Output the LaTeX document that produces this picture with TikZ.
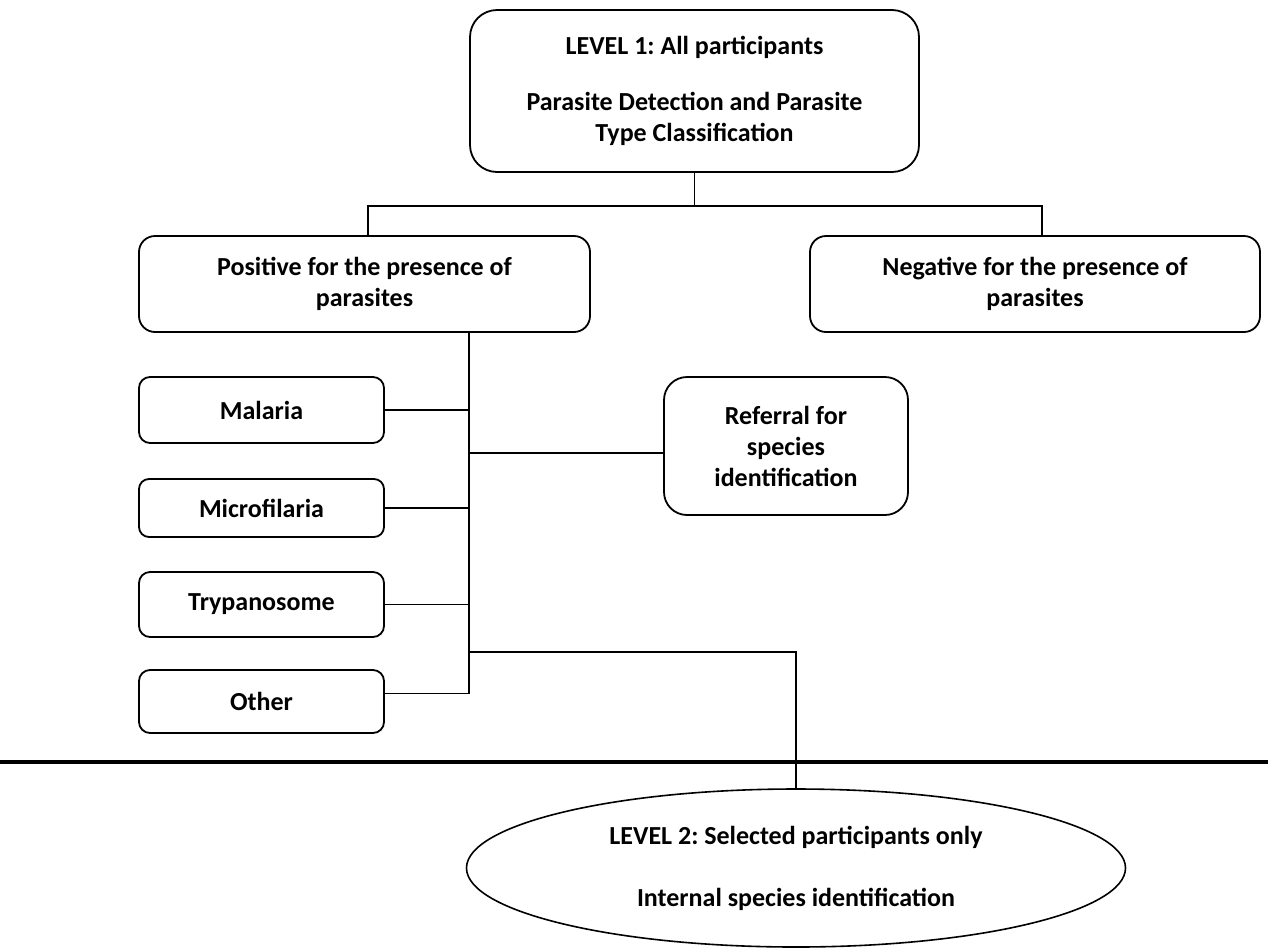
\documentclass[tikz,border=0pt]{standalone}
\usepackage{fontspec}
\setmainfont{Carlito}
\usetikzlibrary{shapes.geometric}
\frenchspacing
\begin{document}
\begin{tikzpicture}[x=1pt,y=-1pt,
 box/.style={draw, line width=1.8pt, align=center, inner sep=0pt, font=\fontsize{26}{31}\selectfont\bfseries},
 conn/.style={line width=1.8pt},
 divider/.style={line width=4.5pt},
]
\useasboundingbox (0,0) rectangle (1268,951);
\node[box, rounded corners=27pt, minimum width=449pt, minimum height=162pt] (lvl1) at (694.5,91)
  {LEVEL 1: All participants\\[25pt]Parasite Detection and Parasite\\Type Classification};
\node[box, rounded corners=16pt, minimum width=451pt, minimum height=96pt] (pos) at (364.5,284)
  {Positive for the presence of\\parasites};
\node[box, rounded corners=16pt, minimum width=450pt, minimum height=96pt] (neg) at (1035,284)
  {Negative for the presence of\\parasites};
\node[box, rounded corners=11pt, minimum width=245pt, minimum height=66pt] (mal) at (261.5,410) {Malaria};
\node[box, rounded corners=10pt, minimum width=245pt, minimum height=58pt] (mic) at (261.5,508) {Microfilaria};
\node[box, rounded corners=11pt, minimum width=245pt, minimum height=65pt] (try) at (261.5,604.5) {Trypanosome};
\node[box, rounded corners=11pt, minimum width=245pt, minimum height=63pt] (oth) at (261.5,701.5) {Other};
\node[box, rounded corners=23pt, minimum width=244pt, minimum height=138pt] (ref) at (786,446)
  {Referral for\\species\\identification};
\node[box, ellipse, line width=1.6pt, minimum width=659pt, minimum height=158pt] (ell) at (796,868)
  {LEVEL 2: Selected participants only\\[31pt]Internal species identification};

\coordinate (jM) at (694.5,206);
\coordinate (jL) at (368,206);
\coordinate (jR) at (1042,206);
\coordinate (tx) at (469,0);
\coordinate (oc) at ([yshift=8pt]oth.east);
\coordinate (rc) at ([yshift=-7pt]ref.west);
\coordinate (ec) at (469,652);

\draw[conn] (lvl1.south) -- (jM);
\draw[conn] (pos.north -| jL) -- (jL) -- (jR) -- (neg.north -| jR);
\draw[conn] (pos.south -| tx) -- (tx |- oc) -- (oc);
\draw[conn] (mal.east) -- (mal.east -| tx);
\draw[conn] (mic.east) -- (mic.east -| tx);
\draw[conn] (try.east) -- (try.east -| tx);
\draw[conn] (rc) -- (rc -| tx);
\draw[conn] (ec) -- (ec -| ell.north) -- (ell.north);
\draw[divider] (0,762) -- (1268,762);
\end{tikzpicture}
\end{document}
